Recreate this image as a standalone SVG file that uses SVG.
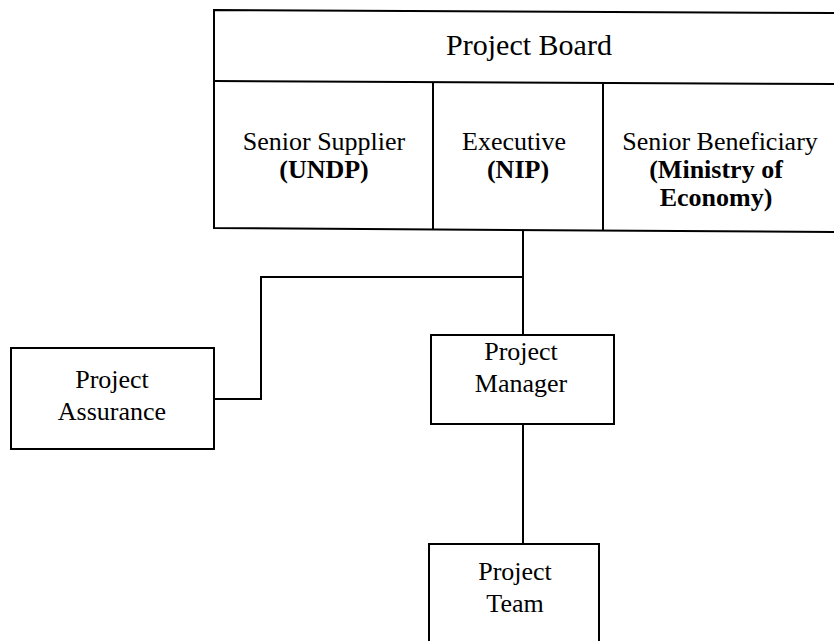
<svg xmlns="http://www.w3.org/2000/svg" width="834" height="641" viewBox="0 0 834 641">
<style>
.box{fill:#fff;stroke:#000;stroke-width:2}
.ln{fill:none;stroke:#000;stroke-width:2}
.t{font-size:26px;fill:#000;text-anchor:middle}
.b{font-weight:bold}
</style>
<rect width="834" height="641" fill="#fff"/>
<g id="connectors">
<path class="ln" d="M523,229 V335"/>
<path class="ln" d="M523,277 H261 V399 H214"/>
<path class="ln" d="M523,424 V544"/>
</g>
<g id="project-board">
<path class="box" d="M214,10 L836,13 L836,232 L214,228 Z"/>
<line class="ln" x1="214" y1="81" x2="836" y2="84"/>
<line class="ln" x1="433" y1="82" x2="433" y2="229"/>
<line class="ln" x1="603" y1="83" x2="603" y2="230"/>
<text class="t" font-family="Liberation Serif" x="529" y="55" style="font-size:30px">Project Board</text>
</g>
<g id="senior-supplier">
<text class="t" font-family="Liberation Serif" x="324" y="150">Senior Supplier</text>
<text class="t b" font-family="Liberation Serif" x="324" y="178">(UNDP)</text>
</g>
<g id="executive">
<text class="t" font-family="Liberation Serif" x="514" y="150">Executive</text>
<text class="t b" font-family="Liberation Serif" x="518" y="178">(NIP)</text>
</g>
<g id="senior-beneficiary">
<text class="t" font-family="Liberation Serif" x="720" y="150">Senior Beneficiary</text>
<text class="t b" font-family="Liberation Serif" x="716" y="178">(Ministry of</text>
<text class="t b" font-family="Liberation Serif" x="716" y="206">Economy)</text>
</g>
<g id="project-assurance">
<rect class="box" x="11" y="348" width="203" height="101"/>
<text class="t" font-family="Liberation Serif" x="112" y="388">Project</text>
<text class="t" font-family="Liberation Serif" x="112" y="420">Assurance</text>
</g>
<g id="project-manager">
<rect class="box" x="431" y="335" width="183" height="89"/>
<text class="t" font-family="Liberation Serif" x="521" y="360">Project</text>
<text class="t" font-family="Liberation Serif" x="521" y="392">Manager</text>
</g>
<g id="project-team">
<rect class="box" x="429" y="544" width="170" height="110"/>
<text class="t" font-family="Liberation Serif" x="515" y="580">Project</text>
<text class="t" font-family="Liberation Serif" x="515" y="612">Team</text>
</g>
</svg>
